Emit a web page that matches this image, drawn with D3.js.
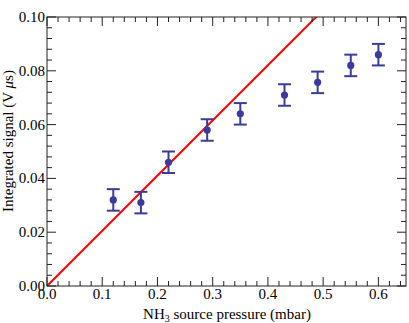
<!DOCTYPE html>
<html><head><meta charset="utf-8">
<script src="https://cdn.jsdelivr.net/npm/d3@7/dist/d3.min.js"></script>
<style>body{margin:0;background:#fff}svg{display:block}</style>
</head><body>
<svg id="c" width="409" height="323"></svg>
<script>
const pressure = [0.12, 0.17, 0.22, 0.29, 0.35, 0.43, 0.49, 0.55, 0.60];
const signal   = [0.032, 0.031, 0.046, 0.058, 0.064, 0.071, 0.0757, 0.082, 0.086];
const errors   = [0.004, 0.004, 0.004, 0.004, 0.004, 0.004, 0.004, 0.004, 0.004];
const fitSlope = 0.2052;
const xTicks = [0.0, 0.1, 0.2, 0.3, 0.4, 0.5, 0.6];
const yTicks = [0.00, 0.02, 0.04, 0.06, 0.08, 0.10];

const L = 47, R = 406, T = 17, B = 286;
const FONT = "'Times New Roman', Times, serif";
const svg = d3.select("#c").attr("font-family", FONT);
const x = d3.scaleLinear().domain([0, 0.65]).range([L, R]);
const y = d3.scaleLinear().domain([0, 0.10]).range([B, T]);

const xMinor = d3.range(0, 0.6501, 0.02);
const yMinor = d3.range(0, 0.1001, 0.004);

svg.append("clipPath").attr("id","clip").append("rect")
  .attr("x", L).attr("y", T).attr("width", R-L).attr("height", B-T);

svg.append("line").attr("clip-path","url(#clip)")
  .attr("x1", x(0)).attr("y1", y(0))
  .attr("x2", x(0.65)).attr("y2", y(0.65*fitSlope))
  .attr("stroke", "#ff0000").attr("stroke-width", 2);

const ax = svg.append("g").attr("stroke","#222").attr("stroke-width",1).attr("fill","none");
ax.append("rect").attr("x", L).attr("y", T).attr("width", R-L).attr("height", B-T);
function isMajor(v, step){ return Math.abs(v/step - Math.round(v/step)) < 1e-6; }
xMinor.forEach(v => {
  const len = isMajor(v, 0.1) ? 9 : 5;
  ax.append("line").attr("x1", x(v)).attr("x2", x(v)).attr("y1", B).attr("y2", B-len);
  ax.append("line").attr("x1", x(v)).attr("x2", x(v)).attr("y1", T).attr("y2", T+len);
});
yMinor.forEach(v => {
  const len = isMajor(v, 0.02) ? 9 : 5;
  ax.append("line").attr("y1", y(v)).attr("y2", y(v)).attr("x1", L).attr("x2", L+len);
  ax.append("line").attr("y1", y(v)).attr("y2", y(v)).attr("x1", R).attr("x2", R-len);
});

svg.append("g").selectAll("text").data(xTicks).join("text")
  .attr("x", d => x(d)).attr("y", 299).attr("text-anchor","middle")
  .attr("font-size", 15).text(d => d.toFixed(1));
svg.append("g").selectAll("text").data(yTicks).join("text")
  .attr("x", 45).attr("y", d => y(d)).attr("dy","0.33em").attr("text-anchor","end")
  .attr("font-size", 15).text(d => d.toFixed(2));

const xt = svg.append("text").attr("x", 227).attr("y", 319).attr("text-anchor","middle").attr("font-size", 15);
xt.append("tspan").text("NH");
xt.append("tspan").attr("font-size", 10).attr("dy", 3).text("3");
xt.append("tspan").attr("dy", -3).text(" source pressure (mbar)");

const yt = svg.append("text").attr("transform","translate(13,141) rotate(-90)").attr("text-anchor","middle").attr("font-size", 15);
yt.append("tspan").text("Integrated signal (V ");
yt.append("tspan").attr("font-style","italic").text("μ");
yt.append("tspan").text("s)");

const col = "#3b3b9c";
const g = svg.append("g");
pressure.forEach((p, i) => {
  const cx = x(p), lo = y(signal[i]-errors[i]), hi = y(signal[i]+errors[i]);
  g.append("line").attr("x1",cx).attr("x2",cx).attr("y1",lo).attr("y2",hi).attr("stroke",col).attr("stroke-width",2);
  g.append("line").attr("x1",cx-6.5).attr("x2",cx+6.5).attr("y1",lo).attr("y2",lo).attr("stroke",col).attr("stroke-width",2);
  g.append("line").attr("x1",cx-6.5).attr("x2",cx+6.5).attr("y1",hi).attr("y2",hi).attr("stroke",col).attr("stroke-width",2);
  g.append("circle").attr("cx",cx).attr("cy",y(signal[i])).attr("r",3.6).attr("fill",col);
});
</script>
</body></html>
